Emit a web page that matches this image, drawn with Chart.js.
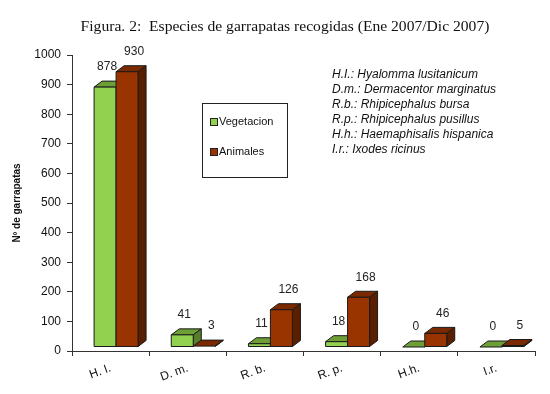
<!DOCTYPE html>
<html>
<head>
<meta charset="utf-8">
<script src="https://cdn.jsdelivr.net/npm/chart.js@4"></script>
<style>
  html, body { margin: 0; padding: 0; background: #fff; }
  #wrap { width: 550px; height: 394px; }
</style>
</head>
<body>
<div id="wrap"><canvas id="grafico"></canvas></div>
<script>
// datos
const categorias = ['H. I.', 'D. m.', 'R. b.', 'R. p.', 'H.h.', 'I.r.'];
const vegetacion = [878, 41, 11, 18, 0, 0];
const animales = [930, 3, 126, 168, 46, 5];
const nombresSeries = ['Vegetacion', 'Animales'];
const ejeY = { min: 0, max: 1000, paso: 100 };
const titulo = 'Figura. 2:  Especies de garrapatas recogidas (Ene 2007/Dic 2007)';
const tituloEjeY = 'Nº de garrapatas';
const especies = [
  'H.I.: Hyalomma lusitanicum',
  'D.m.: Dermacentor marginatus',
  'R.b.: Rhipicephalus bursa',
  'R.p.: Rhipicephalus pusillus',
  'H.h.: Haemaphisalis hispanica',
  'I.r.: Ixodes ricinus'
];

// colores de las caras (frente, arriba, lado)
const caras = [
  { frente: '#92D050', arriba: '#6E9E36', lado: '#557F28', etiqueta: 2 },
  { frente: '#993300', arriba: '#7A2900', lado: '#5A1E00', etiqueta: 7 }
];
const DX = 8, DY = -6;     // profundidad 3D
const OX = 5.5, OY = -4;   // desplazamiento de la cara frontal

function poly(ctx, pts, fill) {
  ctx.beginPath();
  ctx.moveTo(pts[0][0], pts[0][1]);
  for (let k = 1; k < pts.length; k++) ctx.lineTo(pts[k][0], pts[k][1]);
  ctx.closePath();
  ctx.fillStyle = fill;
  ctx.fill();
  ctx.stroke();
}

// dibuja las barras con efecto 3D a partir de los elementos del gráfico
const barras3D = {
  id: 'barras3D',
  beforeDatasetsDraw(chart) {
    const ctx = chart.ctx;
    ctx.save();
    ctx.lineWidth = 1;
    ctx.strokeStyle = '#1a1a1a';
    ctx.lineJoin = 'round';
    for (let i = 0; i < categorias.length; i++) {
      for (let d = 0; d < 2; d++) {
        const el = chart.getDatasetMeta(d).data[i];
        const p = el.getProps(['x', 'y', 'base', 'width'], true);
        const l = p.x - p.width / 2 + OX, r = l + p.width;
        const t = p.y + OY, b = p.base + OY;
        const c = caras[d];
        poly(ctx, [[l, t], [l + DX, t + DY], [r + DX, t + DY], [r, t]], c.arriba);
        poly(ctx, [[r, t], [r + DX, t + DY], [r + DX, b + DY], [r, b]], c.lado);
        if (b - t > 0.5) poly(ctx, [[l, t], [r, t], [r, b], [l, b]], c.frente);
      }
    }
    ctx.restore();
    return false;
  },
  afterDraw(chart) {
    const ctx = chart.ctx;
    ctx.save();
    // etiquetas de valores
    ctx.font = '12px "Liberation Sans", Arial, sans-serif';
    ctx.fillStyle = '#222';
    ctx.textAlign = 'center';
    ctx.textBaseline = 'middle';
    [vegetacion, animales].forEach((serie, d) => {
      chart.getDatasetMeta(d).data.forEach((el, i) => {
        ctx.fillText(String(serie[i]), el.x + OX + caras[d].etiqueta, el.y + OY - 20);
      });
    });

    // título
    ctx.font = '15.6px "Liberation Serif", "Times New Roman", serif';
    ctx.fillStyle = '#111';
    ctx.fillText(titulo, 285, 27);

    // leyenda
    ctx.strokeStyle = '#222';
    ctx.lineWidth = 1;
    ctx.strokeRect(202.5, 103.5, 85, 74);
    ctx.font = '11px "Liberation Sans", Arial, sans-serif';
    ctx.textAlign = 'left';
    nombresSeries.forEach((n, d) => {
      const yy = 122 + d * 30;
      ctx.fillStyle = caras[d].frente;
      ctx.fillRect(210.5, yy - 3.5, 7, 7);
      ctx.strokeRect(210.5, yy - 3.5, 7, 7);
      ctx.fillStyle = '#111';
      ctx.fillText(n, 219, yy);
    });

    // lista de especies
    ctx.font = 'italic 12px "Liberation Sans", Arial, sans-serif';
    especies.forEach((s, k) => ctx.fillText(s, 332, 75 + k * 14.9));
    ctx.restore();
  }
};

const ctx = document.getElementById('grafico');
new Chart(ctx, {
  type: 'bar',
  data: {
    labels: categorias,
    datasets: [
      { label: nombresSeries[0], data: vegetacion, backgroundColor: caras[0].frente },
      { label: nombresSeries[1], data: animales, backgroundColor: caras[1].frente }
    ]
  },
  options: {
    responsive: true,
    maintainAspectRatio: false,
    animation: false,
    categoryPercentage: 0.57,
    barPercentage: 1,
    layout: { padding: { top: 55, right: 15, left: 0, bottom: 0 } },
    plugins: {
      legend: { display: false },
      title: { display: false },
      tooltip: { enabled: false }
    },
    scales: {
      x: {
        grid: { drawOnChartArea: false, tickLength: 5, color: '#333', offset: true },
        border: { color: '#333' },
        ticks: {
          font: { family: '"Liberation Sans", Arial, sans-serif', size: 12 },
          color: '#111',
          minRotation: 20,
          maxRotation: 20,
          padding: 5
        },
        afterFit: s => { s.height = 43; }
      },
      y: {
        min: ejeY.min,
        max: ejeY.max,
        ticks: {
          stepSize: ejeY.paso,
          callback: v => String(v),
          font: { family: '"Liberation Sans", Arial, sans-serif', size: 12 },
          color: '#111',
          padding: 6
        },
        grid: { drawOnChartArea: false, tickLength: 5, color: '#333' },
        border: { color: '#333' },
        title: {
          display: true,
          text: tituloEjeY,
          color: '#111',
          font: { family: '"Liberation Sans", Arial, sans-serif', size: 10, weight: 'bold' },
          padding: { top: 11, bottom: 0 }
        },
        afterFit: s => { s.width = 72; }
      }
    }
  },
  plugins: [barras3D]
});
</script>
</body>
</html>
